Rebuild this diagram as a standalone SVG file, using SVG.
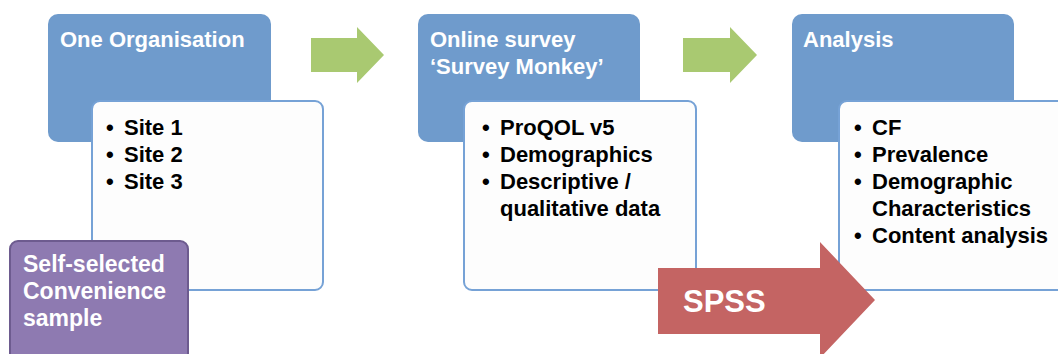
<svg xmlns="http://www.w3.org/2000/svg" width="1058" height="354" viewBox="0 0 1058 354">
<style>
.hdr{fill:#6f9bcc;}
.card{fill:#fdfdfd;stroke:#76a2d6;stroke-width:2;}
.ht{font-family:"Liberation Sans",Arial,sans-serif;font-weight:bold;font-size:22px;fill:#ffffff;}
.bt{font-family:"Liberation Sans",Arial,sans-serif;font-weight:bold;font-size:22px;fill:#000000;}
.go{fill:#a9c971;}
</style>
<rect width="1058" height="354" fill="#ffffff"/>
<g id="connectors">
<polygon class="go" points="311,38 357,38 357,27 384,55 357,83 357,72 311,72"/>
<polygon class="go" points="683,38 730,38 730,27 757,55 730,83 730,72 683,72"/>
</g>
<g id="org">
<rect class="hdr" x="48" y="14" width="223" height="128" rx="10"/>
<text class="ht" x="60" y="47">One Organisation</text>
</g>
<g id="sites">
<rect class="card" x="92" y="101" width="231" height="189" rx="8"/>
<text class="bt"><tspan x="106" y="135">•</tspan><tspan x="124" y="135">Site 1</tspan><tspan x="106" y="162">•</tspan><tspan x="124" y="162">Site 2</tspan><tspan x="106" y="189">•</tspan><tspan x="124" y="189">Site 3</tspan></text>
</g>
<g id="sample">
<rect x="10" y="241" width="178" height="130" rx="8" fill="#8e7ab1" stroke="#6d5b8f" stroke-width="2"/>
<text class="ht" style="font-size:23px"><tspan x="23" y="272">Self-selected</tspan><tspan x="23" y="299">Convenience</tspan><tspan x="23" y="326">sample</tspan></text>
</g>
<g id="survey">
<rect class="hdr" x="418" y="14" width="222" height="128" rx="10"/>
<text class="ht"><tspan x="430" y="47">Online survey</tspan><tspan x="430" y="74">‘Survey Monkey’</tspan></text>
</g>
<g id="survey-items">
<rect class="card" x="464" y="101" width="232" height="189" rx="8"/>
<text class="bt"><tspan x="482" y="135">•</tspan><tspan x="500" y="135">ProQOL v5</tspan><tspan x="482" y="162">•</tspan><tspan x="500" y="162">Demographics</tspan><tspan x="482" y="189">•</tspan><tspan x="500" y="189">Descriptive /</tspan><tspan x="500" y="216">qualitative data</tspan></text>
</g>
<g id="analysis">
<rect class="hdr" x="792" y="14" width="222" height="128" rx="10"/>
<text class="ht" x="803" y="47">Analysis</text>
</g>
<g id="analysis-items">
<rect class="card" x="839" y="101" width="240" height="189" rx="8"/>
<text class="bt"><tspan x="854" y="135">•</tspan><tspan x="872" y="135">CF</tspan><tspan x="854" y="162">•</tspan><tspan x="872" y="162">Prevalence</tspan><tspan x="854" y="189">•</tspan><tspan x="872" y="189">Demographic</tspan><tspan x="872" y="216">Characteristics</tspan><tspan x="854" y="243">•</tspan><tspan x="872" y="243">Content analysis</tspan></text>
</g>
<g id="spss">
<polygon points="658,268 820,268 820,242 875,300 820,358 820,334 658,334" fill="#c46463"/>
<text x="683" y="312" font-family="Liberation Sans,Arial,sans-serif" font-weight="bold" font-size="31" fill="#ffffff">SPSS</text>
</g>
</svg>
